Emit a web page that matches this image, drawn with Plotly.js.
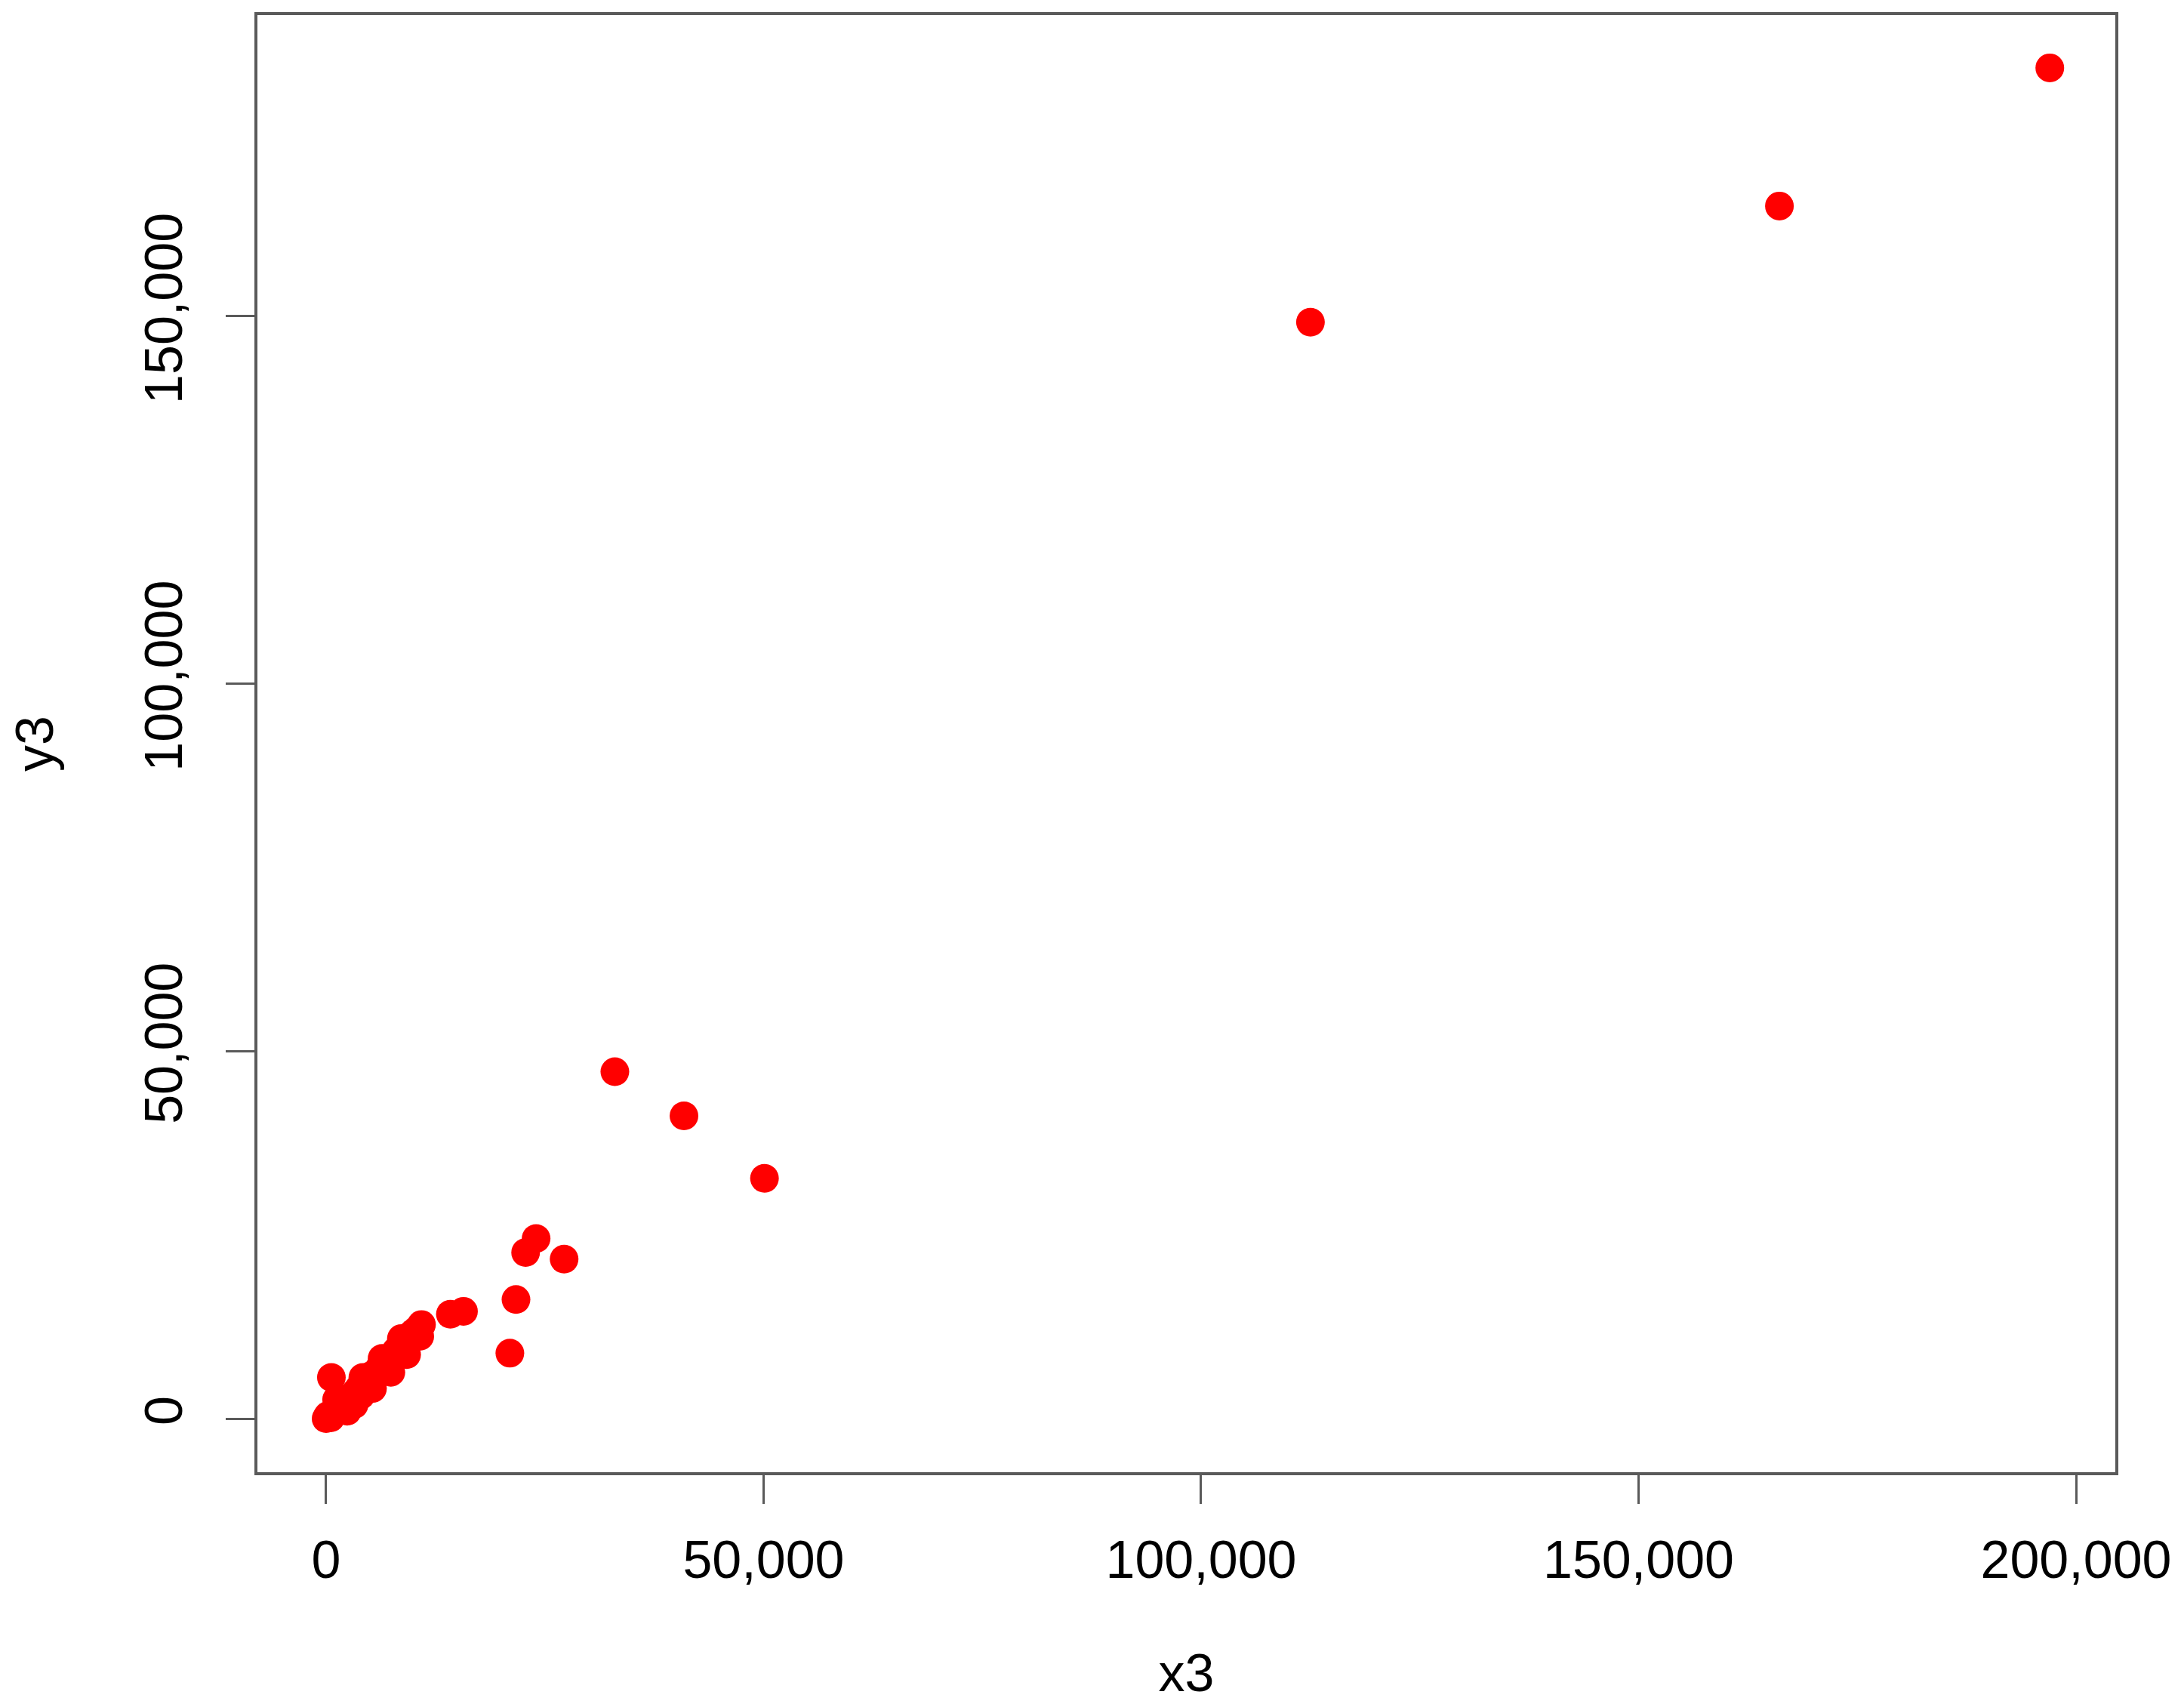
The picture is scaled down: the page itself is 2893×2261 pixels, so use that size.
<!DOCTYPE html>
<html>
<head>
<meta charset="utf-8">
<script src="https://cdn.plot.ly/plotly-3.0.1.min.js"></script>
<style>html,body{margin:0;padding:0;background:#fff;}#chart{width:2893px;height:2261px;}</style>
</head>
<body>
<div id="chart"></div>
<script>
// Data
const x3 = [
  0, 200, 500, 900, 1300, 1800, 2200, 2600, 3000, 3400, 3800, 4300, 4800, 5200, 5700,
  6100, 6600, 7000, 7500, 8000, 8400, 8900, 9400, 9900, 10400, 10900, 2400, 4000, 7200,
  3200, 5300, 7400, 9200, 10700, 1200, 4200, 6400, 8600,
  600, 14200, 15700, 21700, 21000, 22800, 24000, 27200, 33000, 40900, 50100,
  112500, 166100, 197000
];
const y3 = [
  0, 400, 100, 700, 1200, 1500, 2300, 2800, 2600, 3600, 4200, 4500, 5300, 5900, 6200,
  6900, 7400, 8000, 8300, 9200, 9800, 10300, 11000, 11600, 12100, 12800, 1000, 3200, 6700,
  1900, 4100, 6300, 8700, 11200, 2600, 5600, 8200, 10900,
  5600, 14200, 14600, 16200, 8900, 22600, 24500, 21700, 47200, 41200, 32700,
  149200, 165000, 183800
];
const xTicks = [0, 50000, 100000, 150000, 200000];
const xTickText = ["0", "50,000", "100,000", "150,000", "200,000"];
const yTicks = [0, 50000, 100000, 150000];
const yTickText = ["0", "50,000", "100,000", "150,000"];

const font = {family: "Liberation Sans, Arial, sans-serif", size: 70, color: "#000"};

const trace = {
  type: "scatter",
  mode: "markers",
  x: x3,
  y: y3,
  marker: {color: "#ff0000", size: 38, line: {width: 0}},
  hoverinfo: "x+y"
};

const axisCommon = {
  showgrid: false,
  zeroline: false,
  showline: true,
  mirror: true,
  linecolor: "#5a5a5a",
  linewidth: 4,
  ticks: "outside",
  ticklen: 38,
  tickwidth: 3,
  tickcolor: "#5a5a5a",
  tickfont: font
};

const layout = {
  width: 2893,
  height: 2261,
  paper_bgcolor: "#fff",
  plot_bgcolor: "#fff",
  showlegend: false,
  margin: {l: 341, r: 91, t: 20, b: 311},
  xaxis: Object.assign({}, axisCommon, {
    range: [-7851, 204487],
    tickvals: xTicks,
    ticktext: xTickText,
    ticklabelstandoff: 14,
    title: {text: "x3", font: font, standoff: 88}
  }),
  yaxis: Object.assign({}, axisCommon, {
    range: [-7294, 190980],
    tickvals: yTicks,
    ticktext: yTickText,
    tickangle: -90,
    ticklabelstandoff: 30,
    title: {text: "y3", font: font, standoff: 86}
  })
};

Plotly.newPlot("chart", [trace], layout, {displayModeBar: false, staticPlot: true});
</script>
</body>
</html>
